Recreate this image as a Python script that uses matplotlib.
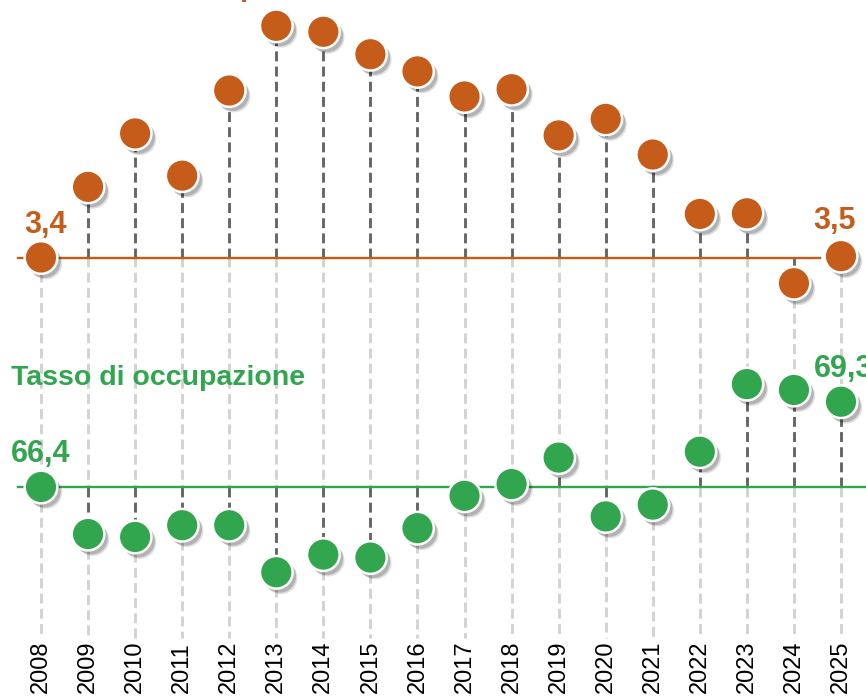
import numpy as np
import matplotlib
matplotlib.use("Agg")
import matplotlib.pyplot as plt
import matplotlib.patheffects as pe
from matplotlib.transforms import blended_transform_factory

# data
years = list(range(2008, 2026))
disocc = [3.44, 4.51, 5.32, 4.68, 5.97, 6.95, 6.86, 6.52, 6.26, 5.88,
          5.99, 5.29, 5.54, 5.00, 4.10, 4.11, 3.05, 3.46]
occup = [66.4, 64.8, 64.7, 65.1, 65.1, 63.5, 64.1, 64.0, 65.0, 66.1,
         66.5, 67.4, 65.4, 65.8, 67.6, 69.9, 69.7, 69.3]
title_o = "Tasso di disoccupazione"
title_g = "Tasso di occupazione"

orange = "#C55C1A"
green = "#31A64E"
dark = "#666666"
light = "#D3D3D3"
W, H = 866, 697

plt.rcParams['font.family'] = ['Liberation Sans', 'DejaVu Sans']

fig = plt.figure(figsize=(W / 100, H / 100), dpi=100)
ax_g = fig.add_axes([0, 0, 1, 1])
ax_o = fig.add_axes([0, 0, 1, 1], sharex=ax_g)
ax_o.patch.set_visible(False)
for a in (ax_g, ax_o):
    a.set_axis_off()

# x: 2008 at 41 px, 47.06 px per year
px_year = 800 / 17
ax_g.set_xlim(2008 - 41 / px_year, 2025 + (W - 841) / px_year)

# each series gets its own vertical scale
o0, g0 = disocc[0], occup[0]
o_scale, o_base = 66.0, 257.5      # px per point, px from top
g_scale, g_base = 29.4, 487.0
ax_o.set_ylim(o0 - (H - o_base) / o_scale, o0 + o_base / o_scale)
ax_g.set_ylim(g0 - (H - g_base) / g_scale, g0 + g_base / g_scale)

dash = (0, (3.4, 1.8))
lw = 2.1

# light grey guides (parts not covered by the dark stems)
bt = blended_transform_factory(ax_g.transData, ax_g.transAxes)
fo = lambda v: ax_o.transLimits.transform((2008, v))[1]
fg = lambda v: ax_g.transLimits.transform((2008, v))[1]
bottom = 1 - 638 / H
for x, vo, vg in zip(years, disocc, occup):
    ax_g.plot([x, x], [fo(min(vo, o0)), fg(max(vg, g0))], color=light,
              lw=lw, linestyle=dash, transform=bt, zorder=1)
    ax_g.plot([x, x], [fg(min(vg, g0)), bottom], color=light,
              lw=lw, linestyle=dash, transform=bt, zorder=1)

# dark stems
ax_o.vlines(years, o0, disocc, colors=dark, lw=lw, linestyles=dash, zorder=2)
ax_g.vlines(years, g0, occup, colors=dark, lw=lw, linestyles=dash, zorder=2)

# baselines
ax_o.plot([2007.51, 2024.55], [o0, o0], color=orange, lw=1.7, zorder=3)
ax_g.plot([2007.51, 2025.6], [g0, g0], color=green, lw=1.7, zorder=3)

shadow = [pe.SimplePatchShadow(offset=(3.5, -4), shadow_rgbFace='black', alpha=0.12),
          pe.SimplePatchShadow(offset=(2.5, -3), shadow_rgbFace='black', alpha=0.2),
          pe.Normal()]
ax_o.plot(years, disocc, 'o', ms=23.5, mfc=orange, mec='white', mew=1.8,
          zorder=4, path_effects=shadow)
ax_g.plot(years, occup, 'o', ms=23.5, mfc=green, mec='white', mew=1.8,
          zorder=4, path_effects=shadow)

# value labels
lab = dict(fontsize=22, fontweight='bold', textcoords='offset pixels',
           ha='left', va='baseline')
ax_o.annotate(f"{disocc[0]:.1f}".replace('.', ','), (years[0], disocc[0]),
              xytext=(-17, 25), color=orange, **lab)
ax_o.annotate(f"{disocc[-1]:.1f}".replace('.', ','), (years[-1], disocc[-1]),
              xytext=(-28, 27), color=orange, annotation_clip=False, **lab)
ax_g.annotate(f"{occup[0]:.1f}".replace('.', ','), (years[0], occup[0]),
              xytext=(-30, 25), color=green, **lab)
ax_g.annotate(f"{occup[-1]:.1f}".replace('.', ','), (years[-1], occup[-1]),
              xytext=(-27, 25), color=green, annotation_clip=False, **lab)

# series titles (the orange one sits above the crop)
fig.text(11 / W, 1 - 385 / H, title_g, color=green, fontsize=20.5,
         fontweight='bold', ha='left', va='baseline')
fig.text(11 / W, 1 + 4 / H, title_o, color=orange, fontsize=20.5,
         fontweight='bold', ha='left', va='baseline')

# year labels
for x in years:
    ax_g.text(x, 1 - 693 / H, str(x), transform=bt, rotation=90,
              ha='center', va='bottom', fontsize=17, color='black')

fig.savefig("out.png", dpi=100)
